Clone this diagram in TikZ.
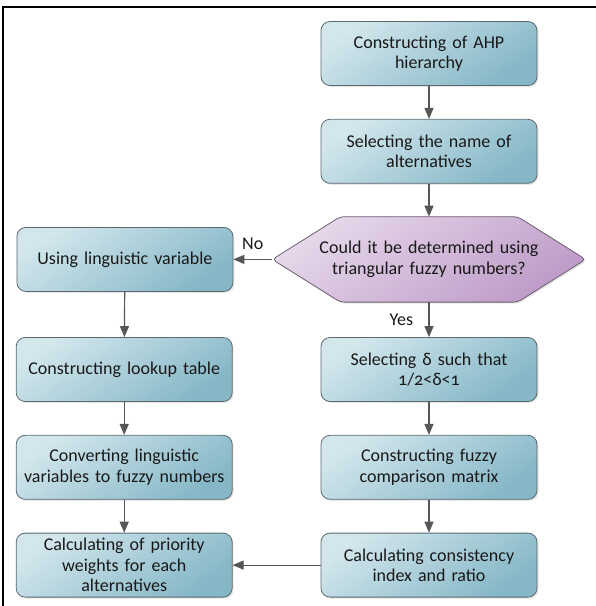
\documentclass[tikz,border=0pt]{standalone}
\usepackage{fontspec}
\setmainfont{Carlito}[Numbers=OldStyle]
\usetikzlibrary{arrows.meta,positioning,shadows,backgrounds}
\definecolor{boxlight}{HTML}{D2E6EC}
\definecolor{boxdark}{HTML}{85B7C7}
\definecolor{boxedge}{HTML}{5A6A70}
\definecolor{hexlight}{HTML}{E6D8EA}
\definecolor{hexdark}{HTML}{BE9BC8}
\definecolor{hexedge}{HTML}{6C6070}
\definecolor{arrowgray}{HTML}{565656}

\begin{document}
\begin{tikzpicture}[x=1pt,y=1pt,node distance=33pt and 88pt,
 >={Triangle[length=11pt,width=9pt]},
 box/.style={draw=boxedge,line width=0.8pt,rounded corners=9pt,align=center,
  top color=boxlight,bottom color=boxdark,shading angle=35,
  text width=202pt,inner xsep=7pt,inner ysep=2pt,minimum height=64pt,
  drop shadow={opacity=0.2,shadow xshift=1.5pt,shadow yshift=-1.5pt},
  font=\fontsize{18}{20.5}\selectfont,text=black!90},
 decision/.style={align=center,text width=240pt,inner xsep=36.5pt,inner ysep=2pt,
  minimum height=85pt,font=\fontsize{18}{20.5}\selectfont,text=black!90},
 hexagon/.style={draw=hexedge,line width=0.8pt,rounded corners=4pt,
  top color=hexlight,bottom color=hexdark,shading angle=35,
  drop shadow={opacity=0.2,shadow xshift=1.5pt,shadow yshift=-1.5pt}},
 flow/.style={->,draw=arrowgray,line width=1.2pt},
 lbl/.style={font=\fontsize{18}{20.5}\selectfont,text=black!90}]
\useasboundingbox (0,0) rectangle (596,-606);
\draw[line width=2.5pt] (3,-606) |- (596,-7);
% right column
\node[box] (ahp) at (429,-53.5) {Constructing of AHP\\hierarchy};
\node[box,below=of ahp] (names) {Selecting the name of\\alternatives};
\node[decision,below=of names] (decide) {Could it be determined using\\triangular fuzzy numbers?};
\begin{scope}[on background layer]
\draw[hexagon] ([xshift=68pt]decide.north west) -- ([xshift=-68pt]decide.north east)
  -- (decide.east) -- ([xshift=-68pt]decide.south east)
  -- ([xshift=68pt]decide.south west) -- (decide.west) -- cycle;
\end{scope}
\node[box,below=35pt of decide] (delta) {Selecting δ such that\\1/2<δ<1};
\node[box,below=of delta] (fuzzy) {Constructing fuzzy\\comparison matrix};
\node[box,below=of fuzzy] (index) {Calculating consistency\\index and ratio};
% left column
\node[box,left=39pt of decide] (ling) {Using linguistic variable};
\node[box,left=of delta] (lookup) {Constructing lookup table};
\node[box,left=of fuzzy] (convert) {Converting linguistic\\variables to fuzzy numbers};
\node[box,left=of index] (weights) {Calculating of priority\\weights for each\\alternatives};
\draw[flow] (ahp) -- (names);
\draw[flow] (names) -- (decide);
\draw[flow] (decide) -- node[lbl,above=6pt]{No} (ling);
\draw[flow] (decide) -- node[lbl,left=12pt]{Yes} (delta);
\draw[flow] (delta) -- (fuzzy);
\draw[flow] (fuzzy) -- (index);
\draw[flow] (index) -- (weights);
\draw[flow] (ling) -- (lookup);
\draw[flow] (lookup) -- (convert);
\draw[flow] (convert) -- (weights);
\end{tikzpicture}
\end{document}
